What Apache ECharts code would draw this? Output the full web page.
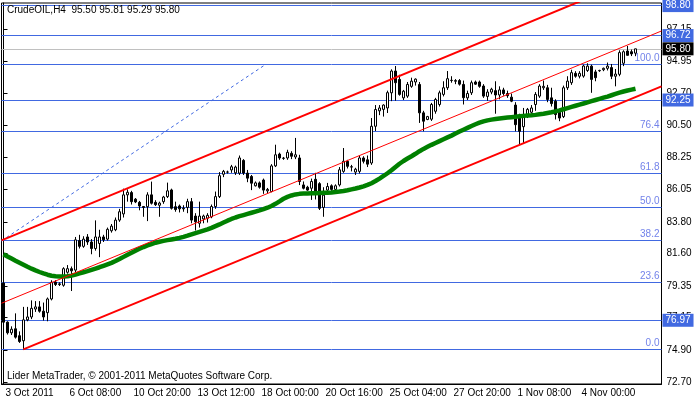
<!DOCTYPE html>
<html><head><meta charset="utf-8">
<script src="https://cdn.jsdelivr.net/npm/echarts@6/dist/echarts.min.js"></script>
<style>html,body{margin:0;padding:0;background:#fff}#c{width:700px;height:402px}</style>
</head><body><div id="c"></div>
<script>
// ---- data (H4 bars, index 0 = 3 Oct 2011) ----
const opens = [79.55,76.84,76.10,76.38,75.90,75.55,77.00,77.20,77.75,77.90,
77.60,77.50,78.45,79.62,79.45,79.40,80.30,80.55,80.45,82.50,
82.10,82.75,82.40,81.95,82.30,82.75,82.60,83.18,83.25,83.92,
84.35,85.67,85.83,85.37,85.15,84.86,84.85,85.67,85.15,84.95,
85.20,85.55,86.01,84.85,84.90,84.70,84.80,85.20,84.20,83.70,
84.00,84.05,84.15,84.86,85.55,87.10,87.25,87.40,87.20,87.18,
88.06,87.18,86.95,86.30,86.50,86.70,85.95,85.90,87.68,88.50,
88.20,88.23,88.55,88.30,88.23,86.36,86.20,86.13,86.75,86.45,
84.80,86.00,86.30,86.05,86.36,87.30,88.00,87.60,87.25,87.30,
88.23,88.10,87.88,90.43,91.50,91.60,91.70,92.75,94.26,93.68,
92.40,92.52,93.20,93.50,93.33,91.36,90.90,90.92,91.47,91.94,
92.64,93.10,93.60,93.55,93.60,93.33,92.40,92.75,93.50,93.50,
93.22,92.50,92.80,92.90,92.60,92.95,92.70,92.45,91.90,91.10,
90.40,91.20,91.40,91.94,92.52,93.10,93.10,92.40,92.17,91.40,
91.10,93.10,93.45,94.10,93.90,93.91,94.30,94.60,94.20,94.30,
94.35,94.45,94.50,93.90,94.03,94.80,95.65,95.60,95.50];
const highs = [79.62,76.90,76.55,77.45,76.20,77.90,77.90,78.35,78.30,78.30,
78.20,78.55,79.75,79.75,79.60,80.65,80.80,80.70,82.75,82.90,
82.80,82.95,82.60,83.90,83.25,82.90,83.40,83.65,84.10,84.70,
86.10,86.05,85.95,85.45,85.25,84.90,85.85,86.59,85.30,85.20,
85.60,86.52,86.10,85.20,85.00,84.95,85.40,85.45,84.40,85.20,
84.30,84.40,85.00,85.90,87.25,87.40,87.35,87.75,87.70,88.40,
88.15,87.40,87.05,86.60,86.60,86.80,86.15,87.80,89.15,88.60,
88.30,88.80,88.70,89.62,88.45,86.60,86.30,86.80,87.20,86.55,
86.20,86.50,86.40,86.40,87.60,88.92,88.10,87.75,87.55,88.40,
88.35,88.40,91.00,91.90,91.90,91.95,92.90,94.38,94.61,94.00,
92.95,93.50,93.80,93.75,93.50,91.50,91.15,92.05,92.40,92.90,
93.55,94.26,93.90,93.70,93.70,93.60,92.90,93.60,93.60,93.60,
93.35,93.00,93.10,93.55,93.20,93.10,92.90,92.70,92.10,91.30,
91.70,91.70,91.90,92.80,93.35,93.60,93.30,93.10,92.30,91.55,
93.25,93.90,94.35,94.25,94.25,94.70,94.80,94.70,94.35,94.35,
94.50,94.85,94.75,94.40,95.70,95.70,96.00,95.75,95.81];
const lows = [76.70,75.98,75.95,75.70,75.40,74.95,76.90,77.05,77.55,77.50,
76.95,76.90,78.35,79.35,79.35,79.30,80.20,79.00,80.30,81.95,
82.00,82.20,81.55,81.80,81.35,82.40,82.50,83.05,83.15,83.80,
84.10,85.20,85.00,85.10,84.60,84.15,83.85,85.00,84.90,84.15,
85.05,85.45,84.65,84.50,84.45,84.50,84.40,83.70,83.20,83.40,
83.70,83.75,84.05,84.70,85.45,86.90,87.15,87.20,87.05,87.05,
87.05,86.55,86.00,86.25,86.10,85.74,85.80,85.85,87.60,88.10,
88.10,88.10,88.15,88.15,86.35,86.05,85.95,85.32,85.35,84.62,
84.15,85.90,85.95,85.90,86.25,87.20,87.50,87.30,87.05,87.15,
87.85,87.60,87.75,90.10,91.20,91.10,91.35,92.17,92.20,92.55,
92.25,92.40,93.10,93.25,90.66,90.08,90.85,90.80,91.30,91.80,
92.50,92.95,93.45,93.35,93.25,91.94,92.25,92.60,93.30,93.10,
92.40,92.20,92.65,91.30,92.30,92.55,92.40,92.10,90.08,89.15,
89.27,91.00,91.30,91.50,92.40,92.95,92.10,91.80,90.90,90.78,
91.00,92.95,93.30,93.80,93.75,93.80,94.20,92.75,93.55,94.20,
94.25,94.30,93.70,93.20,93.90,94.60,95.40,95.30,95.29];
const closes = [76.84,76.10,76.35,75.80,75.50,77.00,77.20,77.80,77.90,77.60,
77.20,78.45,79.60,79.45,79.50,80.55,80.55,80.40,82.55,82.10,
82.60,82.40,81.95,82.75,82.75,82.55,83.28,83.50,83.92,84.50,
85.67,85.85,85.20,85.18,84.90,84.80,85.67,85.09,84.99,85.10,
85.52,85.95,84.74,84.65,84.70,84.75,85.20,83.92,83.80,84.20,
84.20,84.25,84.86,85.55,87.00,87.30,87.25,87.62,87.60,88.23,
87.18,86.83,86.48,86.50,86.20,86.00,86.05,87.68,88.45,88.23,
88.22,88.62,88.35,88.45,86.60,86.13,86.00,86.60,85.85,84.74,
85.65,86.25,86.05,86.30,87.41,88.00,87.65,87.62,87.45,88.23,
88.00,87.80,90.43,91.59,91.70,91.90,92.76,94.26,93.45,92.64,
92.86,93.33,93.56,93.70,91.36,90.78,91.10,91.94,92.29,92.75,
93.10,93.73,93.62,93.60,93.35,92.41,92.70,93.45,93.35,93.20,
92.52,92.80,93.00,92.60,92.95,92.70,92.55,92.17,90.54,90.08,
91.10,91.60,91.70,92.64,93.22,93.20,92.29,92.00,91.24,91.00,
93.10,93.56,94.15,93.90,94.10,94.61,94.60,93.68,93.80,94.28,
94.45,94.60,93.90,94.05,95.54,95.60,95.35,95.45,95.80];
// moving average (green line) read per bar
const maValues = [81.55,81.40,81.25,81.10,80.96,80.82,80.68,80.55,80.43,80.32,
80.22,80.13,80.06,80.02,80.00,80.00,80.02,80.07,80.14,80.22,
80.30,80.38,80.47,80.56,80.65,80.75,80.85,80.95,81.08,81.22,
81.37,81.52,81.66,81.80,81.93,82.05,82.16,82.26,82.35,82.42,
82.48,82.53,82.58,82.63,82.69,82.76,82.84,82.93,83.02,83.10,
83.19,83.28,83.38,83.50,83.62,83.75,83.88,84.00,84.10,84.19,
84.27,84.35,84.43,84.51,84.59,84.68,84.78,84.90,85.05,85.22,
85.40,85.53,85.63,85.70,85.74,85.76,85.77,85.78,85.79,85.80,
85.81,85.82,85.84,85.87,85.90,85.94,85.99,86.05,86.11,86.18,
86.26,86.36,86.48,86.63,86.80,86.98,87.17,87.38,87.61,87.83,
88.02,88.19,88.35,88.52,88.70,88.86,89.00,89.14,89.27,89.40,
89.53,89.66,89.78,89.92,90.06,90.19,90.32,90.45,90.57,90.68,
90.77,90.84,90.89,90.93,90.97,91.00,91.03,91.06,91.09,91.12,
91.15,91.17,91.19,91.22,91.26,91.30,91.35,91.40,91.46,91.53,
91.61,91.69,91.77,91.85,91.93,92.01,92.09,92.17,92.25,92.33,
92.41,92.49,92.58,92.67,92.76,92.84,92.91,92.97,93.03];
// channel and trend lines: [bar index, price]
const upperChannel = [[-0.5, 82.51], [146, 99.31]];
const middleChannel = [[-0.5, 78.15], [164.5, 97.04]];
const lowerChannel = [[4.95, 74.95], [164.5, 93.20]];
const fibTrend = [[-0.5, 82.48], [65.6, 94.73]];
// Fibonacci retracement
const fibLow = 74.95, fibHigh = 94.73;
const fibLevels = [0, 23.6, 38.2, 50.0, 61.8, 76.4, 100.0];
// horizontal price lines with boxes on the price scale
const priceLines = [98.80, 96.72, 92.25, 76.97];
const currentPrice = 95.80;
// axes
const xTickLabels = ['3 Oct 2011','6 Oct 08:00','10 Oct 20:00','13 Oct 12:00','18 Oct 00:00','20 Oct 16:00','25 Oct 04:00','27 Oct 20:00','1 Nov 08:00','4 Nov 00:00'];
const barsPerTick = 16;
const yTickValues = [72.70,74.90,77.15,79.35,81.60,83.80,86.05,88.25,90.50,92.70,94.95,97.15];
const symbolName = 'CrudeOIL,H4';
const copyright = 'Lider MetaTrader, \u00a9 2001-2011 MetaQuotes Software Corp.';

// ---- chart ----
const N = 165;
const FONT = '"Liberation Sans", Arial, sans-serif';
const BLUE = '#4169e1';
const cats = Array.from({length: N}, (_, i) => String(i));
const candles = opens.map((o, i) => [o, closes[i], lows[i], highs[i]]);
const last = opens.length - 1;
const tickShown = (i) => i % barsPerTick === 0 && i / barsPerTick < xTickLabels.length;

const ml = [];
fibLevels.forEach(l => {
  ml.push({yAxis: fibLow + (fibHigh - fibLow) * l / 100,
    lineStyle: {color: BLUE, width: 1, type: 'solid'},
    label: {show: true, position: 'insideEndTop', formatter: l.toFixed(1), color: '#7383ea',
      fontFamily: FONT, fontSize: 10, distance: [2, 1]}});
});
priceLines.forEach(p => {
  ml.push({yAxis: p, lineStyle: {color: BLUE, width: 1, type: 'solid'},
    label: {show: true, position: 'end', formatter: p.toFixed(2), color: '#fff', backgroundColor: BLUE,
      fontFamily: FONT, fontSize: 10, padding: [2, 3, 1, 3], distance: 1}});
});
ml.push({yAxis: currentPrice, lineStyle: {color: '#c0c0c0', width: 1, type: 'solid'},
  label: {show: true, position: 'end', formatter: currentPrice.toFixed(2), color: '#fff', backgroundColor: '#000',
    fontFamily: FONT, fontSize: 10, padding: [2, 3, 1, 3], distance: 1}});

const chart = echarts.init(document.getElementById('c'), null, {renderer: 'canvas'});
chart.setOption({
  animation: false,
  backgroundColor: '#fff',
  grid: {left: 1.5, right: 38.5, top: 3, bottom: 18, show: true, borderColor: '#000', borderWidth: 1},
  xAxis: [{
    type: 'category', data: cats, boundaryGap: true,
    axisLine: {lineStyle: {color: '#000'}},
    axisTick: {interval: tickShown, alignWithLabel: true, length: 4, lineStyle: {color: '#000'}},
    axisLabel: {interval: tickShown, formatter: (v, i) => xTickLabels[Math.round(i / barsPerTick)] || '',
      align: 'left', margin: 4, color: '#000', fontFamily: FONT, fontSize: 10, padding: [0, 0, 0, 2]},
    splitLine: {show: false}
  }, {
    type: 'value', min: -0.5, max: N - 0.5, show: false
  }],
  yAxis: {
    type: 'value', position: 'right', min: 72.55, max: 98.98, scale: true,
    axisLine: {show: true, lineStyle: {color: '#000'}},
    axisTick: {show: true, customValues: yTickValues, length: 4, lineStyle: {color: '#000'}},
    axisLabel: {customValues: yTickValues, formatter: v => v.toFixed(2), margin: 5, color: '#000',
      fontFamily: FONT, fontSize: 10},
    splitLine: {show: false}
  },
  series: [{
    type: 'candlestick', data: candles, barWidth: 3, z: 3,
    itemStyle: {color: '#fff', color0: '#000', borderColor: '#000', borderColor0: '#000', borderWidth: 1},
    markLine: {z: 1, silent: true, symbol: 'none', animation: false, data: ml}
  }, {
    type: 'line', data: maValues, symbol: 'none', z: 4,
    lineStyle: {color: '#008000', width: 4.5}
  }, {
    type: 'line', xAxisIndex: 1, data: fibTrend, symbol: 'none', z: 4,
    lineStyle: {color: BLUE, width: 1, type: [3, 3]}
  }, {
    type: 'line', xAxisIndex: 1, data: upperChannel, symbol: 'none', z: 5,
    lineStyle: {color: '#ff0000', width: 2}
  }, {
    type: 'line', xAxisIndex: 1, data: middleChannel, symbol: 'none', z: 5,
    lineStyle: {color: '#ff0000', width: 1}
  }, {
    type: 'line', xAxisIndex: 1, data: lowerChannel, symbol: 'none', z: 5,
    lineStyle: {color: '#ff0000', width: 2}
  }],
  graphic: [{
    type: 'text', left: 7, top: 5, z: 10,
    style: {text: symbolName + '  ' + [opens[last], highs[last], lows[last], closes[last]].map(v => v.toFixed(2)).join(' '),
      font: '10px ' + FONT, fill: '#000'}
  }, {
    type: 'text', left: 7, top: 371, z: 10,
    style: {text: copyright, font: '10px ' + FONT, fill: '#000'}
  }]
});
</script>
</body></html>
